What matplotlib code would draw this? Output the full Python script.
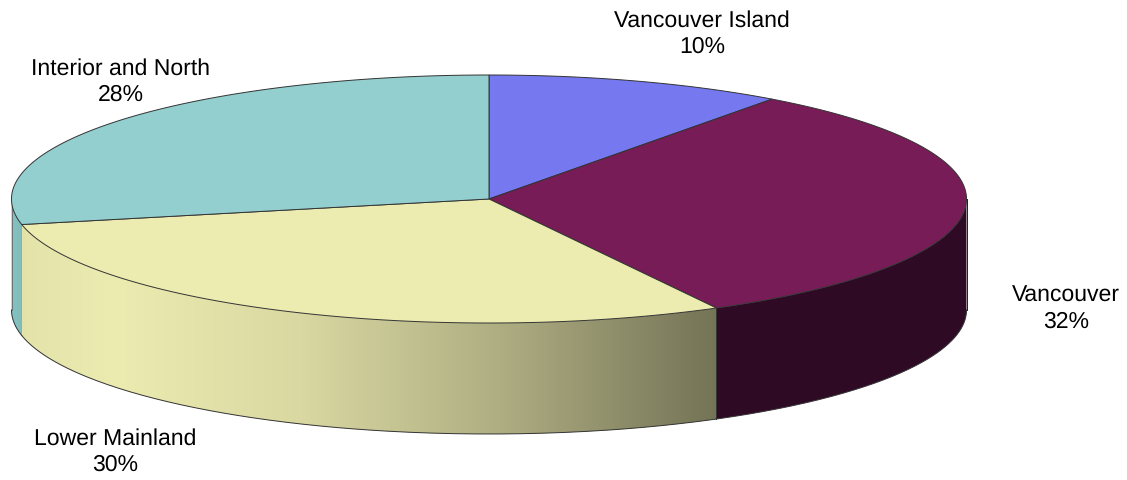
import numpy as np
import matplotlib
matplotlib.use("Agg")
import matplotlib.pyplot as plt
from matplotlib.patches import Polygon

# shares clockwise from 12 o'clock, estimated from the slice corners
regions = ["Vancouver Island", "Vancouver", "Lower Mainland", "Interior and North"]
shares = [10.1, 32.0, 29.6, 28.3]
top_colors = ["#7578ee", "#771c57", "#ecebb0", "#93cfcf"]
side_colors = ["#5a5cb8", "#2f0a25", "#ecebb0", "#84c1c1"]
label_pos = [(702, 33.5), (1066, 309), (115, 452), (121, 81.5)]

cx, cy = 489, 199
rx, ry = 477.5, 124
depth = 111

plt.rcParams["font.family"] = ["Liberation Sans", "DejaVu Sans"]
plt.rcParams["text.hinting"] = "no_hinting"
plt.rcParams["text.hinting_factor"] = 1

fig = plt.figure(figsize=(11.27, 4.80), dpi=100)
ax = fig.add_axes([0, 0, 1, 1])
ax.set_xlim(0, 1127)
ax.set_ylim(480, 0)
ax.axis("off")


def rim(a0, a1, n=200):
    # a is degrees clockwise from the top of the ellipse
    a = np.radians(np.linspace(a0, a1, n))
    return np.column_stack([cx + rx * np.sin(a), cy - ry * np.cos(a)])


def lower_mainland_grad(x):
    return np.interp(x, [22, 115, 300, 500, 717], [0.965, 1.0, 0.92, 0.74, 0.49])


edges = np.cumsum([0] + shares) * 3.6

# sides first, only the front half (90..270 deg) is visible
for i in range(len(shares)):
    a0 = max(edges[i], 90)
    a1 = min(edges[i + 1], 270)
    if a1 <= a0:
        continue
    top = rim(a0, a1)
    bottom = top[::-1] + [0, depth]
    poly = Polygon(np.vstack([top, bottom]), closed=True, fc=side_colors[i], ec="none", zorder=2)
    ax.add_patch(poly)
    if regions[i] in ("Lower Mainland", "Interior and North"):
        x0, x1 = top[:, 0].min(), top[:, 0].max()
        xs = np.linspace(x0, x1, 400)
        base = np.array(matplotlib.colors.to_rgb(side_colors[i]))
        if regions[i] == "Lower Mainland":
            k = lower_mainland_grad(xs)
        else:
            k = np.interp(xs, [x0, x1 - 2, x1], [1.0, 0.98, 0.72])
        grad = k[None, :, None] * base
        im = ax.imshow(grad, extent=[x0, x1, 480, 0], aspect="auto", zorder=2.1)
        im.set_clip_path(poly)
    ax.plot(bottom[:, 0], bottom[:, 1], color="#333333", lw=0.7, zorder=3)
    if i != 3:
        ax.plot([top[0, 0], top[0, 0]], [top[0, 1], top[0, 1] + depth], color="#333333", lw=0.7, zorder=3)

# right and left outline of the side wall
ax.plot([cx - rx, cx - rx], [cy, cy + depth], color="#666666", lw=0.6, zorder=3)
ax.plot([cx + rx, cx + rx], [cy, cy + depth], color="#222222", lw=0.6, zorder=3)

# top face
for i in range(len(shares)):
    pts = np.vstack([[cx, cy], rim(edges[i], edges[i + 1])])
    ax.add_patch(Polygon(pts, closed=True, fc=top_colors[i], ec="#333333", lw=0.7, zorder=4))

for name, val, (x, y) in zip(regions, shares, label_pos):
    ax.text(x, y, f"{name}\n{round(val)}%", ha="center", va="center", fontsize=16.4, color="black",
            linespacing=1.26, zorder=5)

fig.savefig("out.png", dpi=100)
